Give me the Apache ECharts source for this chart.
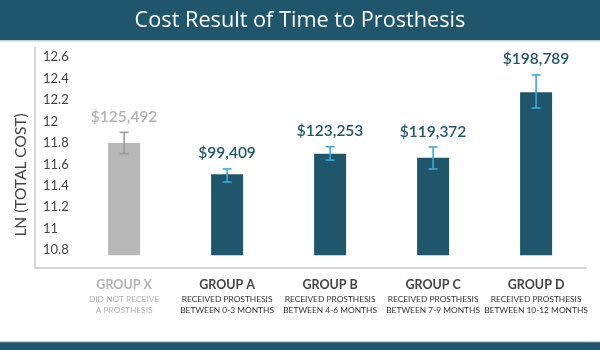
<!DOCTYPE html>
<html>
<head>
<meta charset="utf-8">
<title>Cost Result of Time to Prosthesis</title>
<script src="https://cdn.jsdelivr.net/npm/echarts@6/dist/echarts.min.js"></script>
<style>
  html, body { margin: 0; padding: 0; background: #ffffff; }
  #chart { width: 600px; height: 350px; }
</style>
</head>
<body>
<div id="chart"></div>
<script>
// Groups, their descriptions and the summary numbers per group
const categories = ['GROUP X', 'GROUP A', 'GROUP B', 'GROUP C', 'GROUP D'];
const descriptions = [
  ['DID NOT RECEIVE', 'A PROSTHESIS'],
  ['RECEIVED PROSTHESIS', 'BETWEEN 0-3 MONTHS'],
  ['RECEIVED PROSTHESIS', 'BETWEEN 4-6 MONTHS'],
  ['RECEIVED PROSTHESIS', 'BETWEEN 7-9 MONTHS'],
  ['RECEIVED PROSTHESIS', 'BETWEEN 10-12 MONTHS']
];
const lnCost = [11.80, 11.507, 11.70, 11.662, 12.273];
const errLow = [11.70, 11.435, 11.64, 11.557, 12.126];
const errHigh = [11.899, 11.557, 11.765, 11.762, 12.435];
const costLabels = ['$125,492', '$99,409', '$123,253', '$119,372', '$198,789'];
const yTicks = [10.8, 11, 11.2, 11.4, 11.6, 11.8, 12, 12.2, 12.4, 12.6];

const NAVY = '#1f566b';
const GREY_BAR = '#b8b8b8';
const GREY_TEXT = '#b3b3b3';
const ERR_BLUE = '#3aa9dc';
const ERR_GREY = '#9a9a9a';
const FONT = 'Lato, "Open Sans", sans-serif';

const chart = echarts.init(document.getElementById('chart'), null, { renderer: 'canvas' });

const option = {
  backgroundColor: '#ffffff',
  animation: false,
  grid: { left: 72.6, right: 12.4, top: 46.6, bottom: 94.65, containLabel: false },
  xAxis: {
    type: 'category',
    data: categories,
    axisLine: { show: false },
    axisTick: { show: false },
    axisLabel: {
      interval: 0,
      margin: 21,
      formatter: function (value, idx) {
        const muted = idx === 0;
        const g = muted ? 'gx' : 'g';
        const s = muted ? 'sx' : 's';
        return '{' + g + '|' + value + '}\n{' + s + '|' + descriptions[idx][0] + '}\n{' + s + '|' + descriptions[idx][1] + '}';
      },
      rich: {
        g: { fontFamily: FONT, fontSize: 12.5, fontWeight: 'bold', color: '#444444', lineHeight: 18 },
        gx: { fontFamily: FONT, fontSize: 12.5, fontWeight: 'bold', color: GREY_TEXT, lineHeight: 18 },
        s: { fontFamily: FONT, fontSize: 8.4, color: '#333333', lineHeight: 10.5 },
        sx: { fontFamily: FONT, fontSize: 8.4, color: GREY_TEXT, lineHeight: 10.5 }
      }
    }
  },
  yAxis: {
    type: 'value',
    min: 10.75,
    max: 12.7,
    position: 'left',
    offset: 37.6,
    splitLine: { show: false },
    axisLine: { show: false },
    axisTick: { show: false },
    axisLabel: {
      inside: true,
      margin: 8,
      customValues: yTicks,
      fontFamily: FONT,
      fontSize: 13,
      color: '#444444',
      formatter: function (v) { return String(Math.round(v * 10) / 10); }
    }
  },
  series: [
    {
      type: 'bar',
      barWidth: 32,
      data: lnCost.map(function (v, i) {
        return { value: v, itemStyle: { color: i === 0 ? GREY_BAR : NAVY } };
      }),
      z: 2
    },
    {
      type: 'custom',
      z: 3,
      data: categories.map(function (c, i) { return [i, errLow[i], errHigh[i]]; }),
      renderItem: function (params, api) {
        const i = api.value(0);
        const lo = api.coord([i, api.value(1)]);
        const hi = api.coord([i, api.value(2)]);
        const muted = i === 0;
        const stroke = muted ? ERR_GREY : ERR_BLUE;
        const half = 4.5;
        const lineStyle = { stroke: stroke, lineWidth: 1.6 };
        return {
          type: 'group',
          children: [
            { type: 'line', shape: { x1: hi[0], y1: hi[1], x2: lo[0], y2: lo[1] }, style: lineStyle },
            { type: 'line', shape: { x1: hi[0] - half, y1: hi[1], x2: hi[0] + half, y2: hi[1] }, style: lineStyle },
            { type: 'line', shape: { x1: lo[0] - half, y1: lo[1], x2: lo[0] + half, y2: lo[1] }, style: lineStyle },
            {
              type: 'text',
              x: hi[0],
              y: hi[1] - 15.5,
              style: {
                text: costLabels[i],
                fill: muted ? GREY_TEXT : NAVY,
                fontFamily: FONT,
                fontSize: 15.5,
                fontWeight: 600,
                align: 'center',
                verticalAlign: 'middle'
              }
            }
          ]
        };
      }
    }
  ],
  graphic: [
    // header band
    { type: 'rect', left: 0, top: 0, shape: { width: 600, height: 40 }, style: { fill: NAVY }, z: 10 },
    { type: 'rect', left: 0, top: 40, shape: { width: 600, height: 1.5 }, style: { fill: '#bcd0d8' }, z: 10 },
    {
      type: 'text', x: 300, y: 20.5, z: 11,
      style: {
        text: 'Cost Result of Time to Prosthesis',
        fill: '#ffffff',
        fontFamily: '"Open Sans", "Noto Sans", sans-serif',
        fontSize: 21.7,
        align: 'center',
        verticalAlign: 'middle'
      }
    },
    // footer band
    { type: 'rect', left: 0, top: 342, shape: { width: 600, height: 8 }, style: { fill: NAVY }, z: 10 },
    { type: 'rect', left: 0, top: 341.5, shape: { width: 600, height: 1 }, style: { fill: '#7fa2ae' }, z: 10 },
    // axis frame
    {
      type: 'polyline', z: 1,
      shape: { points: [[35, 47], [35, 268], [587, 268]] },
      style: { stroke: '#cccccc', lineWidth: 1.5, fill: null }
    },
    // value-axis title
    {
      type: 'text', x: 21, y: 175, rotation: Math.PI / 2, z: 5,
      style: {
        text: 'LN (TOTAL COST)',
        fill: '#444444',
        fontFamily: FONT,
        fontSize: 15.5,
        align: 'center',
        verticalAlign: 'middle'
      }
    }
  ]
};

chart.setOption(option);
</script>
</body>
</html>
